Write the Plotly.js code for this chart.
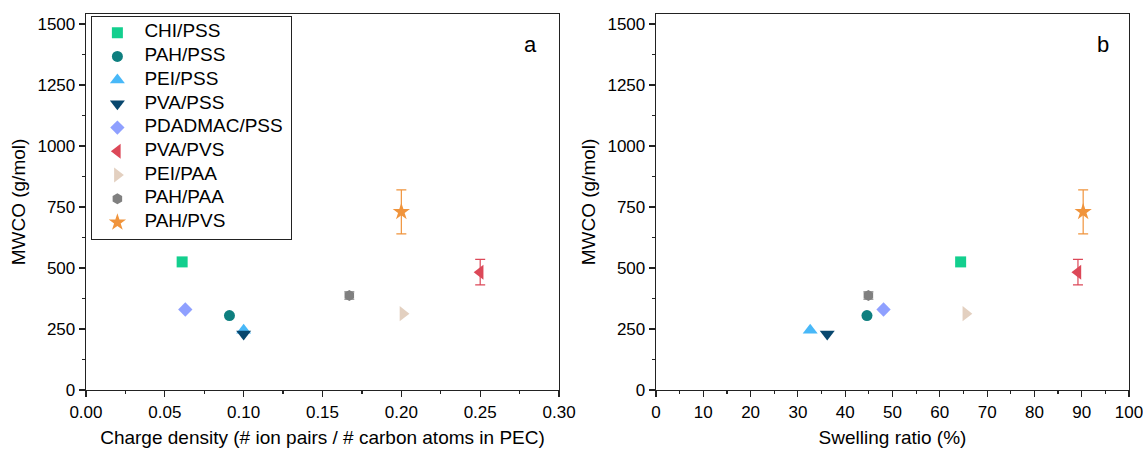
<!DOCTYPE html>
<html>
<head>
<meta charset="utf-8">
<script src="https://cdn.plot.ly/plotly-3.0.1.min.js"></script>
<style>html,body{margin:0;padding:0;background:#fff;}#chart{width:1143px;height:451px;}</style>
</head>
<body>
<div id="chart"></div>
<script>
const names = ["CHI/PSS","PAH/PSS","PEI/PSS","PVA/PSS","PDADMAC/PSS","PVA/PVS","PEI/PAA","PAH/PAA","PAH/PVS"];
const chargeDensity = [0.061, 0.091, 0.100, 0.100, 0.063, 0.250, 0.201, 0.167, 0.200];
const swellingRatio = [64.4, 44.6, 32.6, 36.2, 48.1, 89.2, 65.5, 44.9, 90.3];
const mwco = [525, 305, 245, 230, 330, 483, 313, 387, 730];
const mwcoErr = [0, 0, 0, 0, 0, 52, 0, 15, 90];
const colors = ["#13cf8e","#0e7f7f","#48b8f8","#08476e","#8fa0ff","#dc4858","#e3d0c0","#808080","#f0943c"];
const symbols = ["square","circle","triangle-up","triangle-down","diamond","triangle-left","triangle-right","hexagon","star"];
const xTickVals1 = [0, 0.05, 0.1, 0.15, 0.2, 0.25, 0.3];
const xTickText1 = ["0.00","0.05","0.10","0.15","0.20","0.25","0.30"];
const xTickVals2 = [0,10,20,30,40,50,60,70,80,90,100];
const yTickVals = [0,250,500,750,1000,1250,1500];

const font = "Liberation Sans, Arial, sans-serif";
const sizeOf = s => s === "star" ? 13 : (s.indexOf("triangle") === 0 ? 13 : 11);
const traces = [];
names.forEach((n, i) => {
  const s = symbols[i];
  const base = {
    type: "scatter", mode: "markers", name: n, showlegend: false,
    marker: {symbol: s, color: colors[i], size: sizeOf(s), opacity: 1, line: {width: 0}},
    error_y: {type: "data", array: [mwcoErr[i]], visible: mwcoErr[i] > 0, color: colors[i], thickness: 1.2, width: 5}
  };
  traces.push(Object.assign({}, base, {x: [chargeDensity[i]], y: [mwco[i]], xaxis: "x", yaxis: "y"}));
  traces.push(Object.assign({}, base, {x: [swellingRatio[i]], y: [mwco[i]], xaxis: "x2", yaxis: "y2"}));
});

// legend drawn in its own small subplot (row index -> vertical slot)
const rowIdx = names.map((_, i) => i);
traces.push({
  type: "scatter", mode: "markers", showlegend: false, xaxis: "x3", yaxis: "y3",
  x: names.map(() => 0.126), y: rowIdx,
  marker: {symbol: symbols, color: colors, size: symbols.map(sizeOf), opacity: 1, line: {width: 0}}
});
traces.push({
  type: "scatter", mode: "text", showlegend: false, xaxis: "x3", yaxis: "y3",
  x: names.map(() => 0.262), y: rowIdx, text: names, textposition: "middle right",
  textfont: {family: font, size: 19, color: "#000"}
});

const axCommon = {
  showline: true, linecolor: "#222", linewidth: 1.3, mirror: true,
  ticks: "outside", ticklen: 6, tickwidth: 1.2, tickcolor: "#222",
  showgrid: false, zeroline: false, ticklabeloverflow: "allow",
  tickfont: {family: font, size: 17, color: "#000"}
};
const yCommon = Object.assign({}, axCommon, {
  range: [0, 1541], tickvals: yTickVals,
  minor: {ticks: "outside", ticklen: 3, tickcolor: "#222", dtick: 125, tick0: 0, showgrid: false},
  title: {text: "MWCO (g/mol)", font: {family: font, size: 19, color: "#000"}, standoff: 6}
});

const layout = {
  width: 1143, height: 451,
  margin: {l: 0, r: 0, t: 14, b: 61},
  paper_bgcolor: "#fff", plot_bgcolor: "rgba(0,0,0,0)",
  font: {family: font, color: "#000"},
  showlegend: false,
  xaxis: Object.assign({}, axCommon, {
    domain: [0.0752, 0.4891], anchor: "y", range: [0, 0.3],
    tickvals: xTickVals1, ticktext: xTickText1,
    minor: {ticks: "outside", ticklen: 3, tickcolor: "#222", dtick: 0.025, tick0: 0, showgrid: false},
    title: {text: "Charge density (# ion pairs / # carbon atoms in PEC)", font: {family: font, size: 19, color: "#000"}, standoff: 10}
  }),
  yaxis: Object.assign({}, yCommon, {domain: [0, 1], anchor: "x"}),
  xaxis2: Object.assign({}, axCommon, {
    domain: [0.5739, 0.9878], anchor: "y2", range: [0, 100],
    tickvals: xTickVals2,
    minor: {ticks: "outside", ticklen: 3, tickcolor: "#222", dtick: 5, tick0: 0, showgrid: false},
    title: {text: "Swelling ratio (%)", font: {family: font, size: 19, color: "#000"}, standoff: 10}
  }),
  yaxis2: Object.assign({}, yCommon, {domain: [0, 1], anchor: "x2"}),
  xaxis3: {domain: [0.0808, 0.2546], anchor: "y3", range: [0, 1], showline: true, mirror: true, linecolor: "#222", linewidth: 1.3,
           showticklabels: false, ticks: "", showgrid: false, zeroline: false, fixedrange: true},
  yaxis3: {domain: [0.4016, 0.9907], anchor: "x3", range: [8.70, -0.64], showline: true, mirror: true, linecolor: "#222", linewidth: 1.3,
           showticklabels: false, ticks: "", showgrid: false, zeroline: false, fixedrange: true},
  annotations: [
    {text: "a", xref: "paper", yref: "paper", x: 0.4637, y: 0.9176, xanchor: "center", yanchor: "middle", showarrow: false, font: {family: font, size: 22, color: "#000"}},
    {text: "b", xref: "paper", yref: "paper", x: 0.9650, y: 0.9176, xanchor: "center", yanchor: "middle", showarrow: false, font: {family: font, size: 22, color: "#000"}}
  ]
};

Plotly.newPlot("chart", traces, layout, {displayModeBar: false, staticPlot: true});
</script>
</body>
</html>
